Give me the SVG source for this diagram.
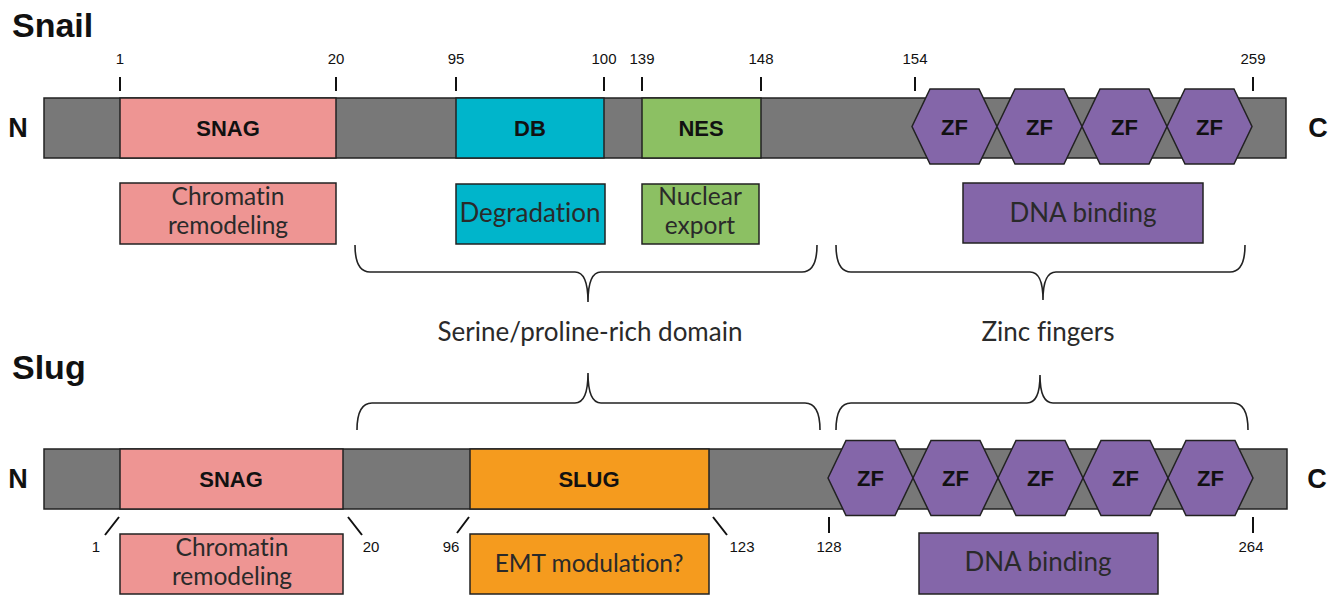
<svg xmlns="http://www.w3.org/2000/svg" width="1336" height="596" viewBox="0 0 1336 596">
<style>
.bar{fill:#787878;stroke:#222;stroke-width:1.5}
.snag{fill:#EE9593;stroke:#222;stroke-width:1.5}
.db{fill:#00B5CB;stroke:#222;stroke-width:1.5}
.nes{fill:#8CC063;stroke:#222;stroke-width:1.5}
.slug{fill:#F59B1E;stroke:#222;stroke-width:1.5}
.zf{fill:#8466A9;stroke:#222;stroke-width:1.5}
.title{font-family:"Liberation Sans",Arial,sans-serif;font-weight:bold;font-size:34px;fill:#111}
.term{font-family:"Liberation Sans",Arial,sans-serif;font-weight:bold;font-size:27px;fill:#111;text-anchor:middle}
.dom{font-family:"Liberation Sans",Arial,sans-serif;font-weight:bold;font-size:22px;fill:#111;text-anchor:middle}
.zft{font-family:"Liberation Sans",Arial,sans-serif;font-weight:bold;font-size:22px;fill:#111;text-anchor:middle}
.num{font-family:"Liberation Sans",Arial,sans-serif;font-size:15px;fill:#111;text-anchor:middle}
.fn{font-family:Lato,"Open Sans",sans-serif;font-size:24.5px;fill:#2a2a2a;text-anchor:middle;font-variant-ligatures:none}
.fnw{font-size:26px}
.lbl{font-family:Lato,"Open Sans",sans-serif;font-size:26px;fill:#2a2a2a;text-anchor:middle;font-variant-ligatures:none}
.tick{stroke:#111;stroke-width:2;fill:none}
.brace{stroke:#222;stroke-width:1.6;fill:none}
</style>

<text class="title" x="12" y="37">Snail</text>
<text class="title" x="12" y="379">Slug</text>

<g id="snail-bar">
<rect class="bar" x="44" y="98" width="1242" height="60"/>
<text class="term" x="18" y="137">N</text>
<text class="term" x="1318" y="137">C</text>
</g>
<g id="snail-snag"><rect class="snag" x="120" y="98" width="216" height="60"/><text class="dom" x="228" y="136">SNAG</text></g>
<g id="snail-db"><rect class="db" x="456" y="98" width="148" height="60"/><text class="dom" x="530" y="136">DB</text></g>
<g id="snail-nes"><rect class="nes" x="642" y="98" width="119" height="60"/><text class="dom" x="701" y="136">NES</text></g>
<g id="snail-zf">
<path class="zf" d="M912,126.5 L930,89 L979,89 L997,126.5 L979,164 L930,164 Z"/>
<path class="zf" d="M997,126.5 L1015,89 L1064,89 L1082,126.5 L1064,164 L1015,164 Z"/>
<path class="zf" d="M1082,126.5 L1100,89 L1149,89 L1167,126.5 L1149,164 L1100,164 Z"/>
<path class="zf" d="M1167,126.5 L1185,89 L1234,89 L1252,126.5 L1234,164 L1185,164 Z"/>
<text class="zft" x="954.5" y="135">ZF</text>
<text class="zft" x="1039.5" y="135">ZF</text>
<text class="zft" x="1124.5" y="135">ZF</text>
<text class="zft" x="1209.5" y="135">ZF</text>
</g>
<g id="snail-ticks">
<path class="tick" d="M120,77V91 M336,77V91 M456,77V91 M604,77V91 M642,77V91 M761,77V91 M915,77V91 M1253,77V91"/>
<text class="num" x="120" y="64">1</text>
<text class="num" x="336" y="64">20</text>
<text class="num" x="456" y="64">95</text>
<text class="num" x="604" y="64">100</text>
<text class="num" x="642" y="64">139</text>
<text class="num" x="761" y="64">148</text>
<text class="num" x="915" y="64">154</text>
<text class="num" x="1253" y="64">259</text>
</g>
<g id="snail-chromatin"><rect class="snag" x="120" y="183" width="216" height="61"/><text class="fn" x="228" y="205">Chromatin</text><text class="fn" x="228" y="234">remodeling</text></g>
<g id="snail-degradation"><rect class="db" x="456" y="184" width="149" height="60"/><text class="fn fnw" x="530" y="222">Degradation</text></g>
<g id="snail-export"><rect class="nes" x="642" y="184" width="117" height="60"/><text class="fn" x="700" y="205">Nuclear</text><text class="fn" x="700" y="234">export</text></g>
<g id="snail-dna"><rect class="zf" x="963" y="183" width="240" height="60"/><text class="fn fnw" x="1083" y="222">DNA binding</text></g>

<g id="braces">
<path class="brace" d="M355,245 Q355,272 370,272 L575,272 Q588,272 588,302 Q588,272 601,272 L802,272 Q817,272 817,245"/>
<path class="brace" d="M836,245 Q836,272 851,272 L1030,272 Q1043,272 1043,300 Q1043,272 1056,272 L1230,272 Q1245,272 1245,245"/>
<path class="brace" d="M357,430 Q357,403 372,403 L575,403 Q588,403 588,373 Q588,403 601,403 L805,403 Q820,403 820,430"/>
<path class="brace" d="M836,430 Q836,403 851,403 L1027,403 Q1040,403 1040,375 Q1040,403 1053,403 L1233,403 Q1248,403 1248,430"/>
</g>
<text class="lbl" x="590" y="341">Serine/proline-rich domain</text>
<text class="lbl" x="1048" y="341">Zinc fingers</text>

<g id="slug-bar">
<rect class="bar" x="44" y="449" width="1243" height="60"/>
<text class="term" x="18" y="488">N</text>
<text class="term" x="1317" y="488">C</text>
</g>
<g id="slug-snag"><rect class="snag" x="120" y="449" width="223" height="60"/><text class="dom" x="231" y="487">SNAG</text></g>
<g id="slug-slug"><rect class="slug" x="470" y="449" width="239" height="60"/><text class="dom" x="589" y="487">SLUG</text></g>
<g id="slug-zf">
<path class="zf" d="M828,478 L846,440.5 L895,440.5 L913,478 L895,515.5 L846,515.5 Z"/>
<path class="zf" d="M913,478 L931,440.5 L980,440.5 L998,478 L980,515.5 L931,515.5 Z"/>
<path class="zf" d="M998,478 L1016,440.5 L1065,440.5 L1083,478 L1065,515.5 L1016,515.5 Z"/>
<path class="zf" d="M1083,478 L1101,440.5 L1150,440.5 L1168,478 L1150,515.5 L1101,515.5 Z"/>
<path class="zf" d="M1168,478 L1186,440.5 L1235,440.5 L1253,478 L1235,515.5 L1186,515.5 Z"/>
<text class="zft" x="870.5" y="486">ZF</text>
<text class="zft" x="955.5" y="486">ZF</text>
<text class="zft" x="1040.5" y="486">ZF</text>
<text class="zft" x="1125.5" y="486">ZF</text>
<text class="zft" x="1210.5" y="486">ZF</text>
</g>
<g id="slug-ticks">
<path class="tick" d="M119,517 L105,535 M348,517 L362,535 M469,517 L457,533 M713,517 L727,535 M829,517V533 M1253,517V533"/>
<text class="num" x="96" y="552">1</text>
<text class="num" x="371" y="552">20</text>
<text class="num" x="451" y="552">96</text>
<text class="num" x="742" y="552">123</text>
<text class="num" x="829" y="552">128</text>
<text class="num" x="1251" y="552">264</text>
</g>
<g id="slug-chromatin"><rect class="snag" x="120" y="534" width="223" height="60"/><text class="fn" x="232" y="556">Chromatin</text><text class="fn" x="232" y="585">remodeling</text></g>
<g id="slug-emt"><rect class="slug" x="470" y="534" width="239" height="60"/><text class="fn" x="589" y="572">EMT modulation?</text></g>
<g id="slug-dna"><rect class="zf" x="919" y="533" width="239" height="61"/><text class="fn fnw" x="1038" y="571">DNA binding</text></g>
</svg>
